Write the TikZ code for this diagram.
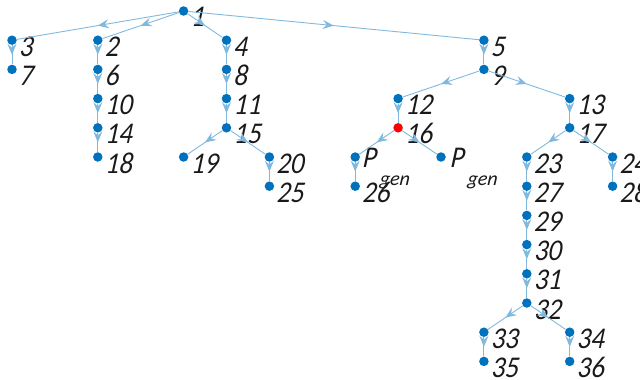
\documentclass[tikz,border=0pt]{standalone}
\usepackage{fontspec}
\setmainfont{Carlito}[ItalicFeatures={FakeSlant=0.12}]
\usetikzlibrary{arrows.meta,decorations.markings}
\definecolor{nodeblue}{RGB}{0,114,189}
\definecolor{edgeblue}{RGB}{128,185,222}
\definecolor{textgray}{RGB}{25,25,25}
\newcommand\tallt[1]{\scalebox{1}[1.12]{#1}}
\tikzset{
  dot/.style={circle, fill=nodeblue, inner sep=0pt, minimum size=9.5bp},
  reddot/.style={dot, fill=red},
  lbl/.style={anchor=base west, inner sep=0pt, text=textgray,
    font=\fontsize{27}{30}\selectfont\itshape, xshift=7bp, yshift=-16bp},
  plbl/.style={lbl, yshift=6bp},
  conn/.style={draw=edgeblue, line width=0.9bp, postaction={decorate},
    decoration={markings, mark=at position 0.5 with
      {\arrow[edgeblue]{Stealth[length=11bp,width=9bp,inset=4bp]}}}},
}
\begin{document}
\begin{tikzpicture}[x=42.9bp, y=-29.2bp]
\useasboundingbox (-12bp,11bp) rectangle (628bp,-369bp);
% nodes: name / column / level
\foreach \n/\c/\k in {1/4/0, 3/0/1, 7/0/2, 2/2/1, 6/2/2, 10/2/3, 14/2/4, 18/2/5,
  4/5/1, 8/5/2, 11/5/3, 15/5/4, 19/4/5, 20/6/5, 25/6/6,
  5/11/1, 9/11/2, 12/9/3, 26/8/6,
  13/13/3, 17/13/4, 23/12/5, 27/12/6, 29/12/7, 30/12/8, 31/12/9, 32/12/10,
  33/11/11, 35/11/12, 34/13/11, 36/13/12, 24/14/5, 28/14/6}{
  \node[dot] (n\n) at (\c,\k) {};
  \node[lbl] (t\n) at (n\n.center) {\tallt{\n}};
}
\node[reddot] (n16) at (9,4) {};
\node[lbl] (t16) at (n16.center) {\tallt{16}};
\node[dot] (pl) at (8,5) {};
\node[plbl] (tpl) at (pl.center) {\tallt{P}\hspace{3bp}\raisebox{-18bp}{\fontsize{20}{22}\selectfont gen}};
\node[dot] (pr) at (10,5) {};
\node[plbl, xshift=2bp] (tpr) at (pr.center) {\tallt{P}\hspace{3bp}\raisebox{-18bp}{\fontsize{20}{22}\selectfont gen}};
% edges
\foreach \a/\b in {1/3, 1/2, 1/4, 1/5, 3/7, 2/6, 6/10, 10/14, 14/18,
  4/8, 8/11, 11/15, 15/19, 15/20, 20/25, 5/9, 9/12, 9/13, 12/16,
  13/17, 17/23, 17/24, 23/27, 27/29, 29/30, 30/31, 31/32, 32/33, 32/34,
  33/35, 34/36, 24/28}{
  \draw[conn] (n\a) -- (n\b);
}
\draw[conn] (n16) -- (pl);
\draw[conn] (n16) -- (pr);
\draw[conn] (pl) -- (n26);
\end{tikzpicture}
\end{document}
